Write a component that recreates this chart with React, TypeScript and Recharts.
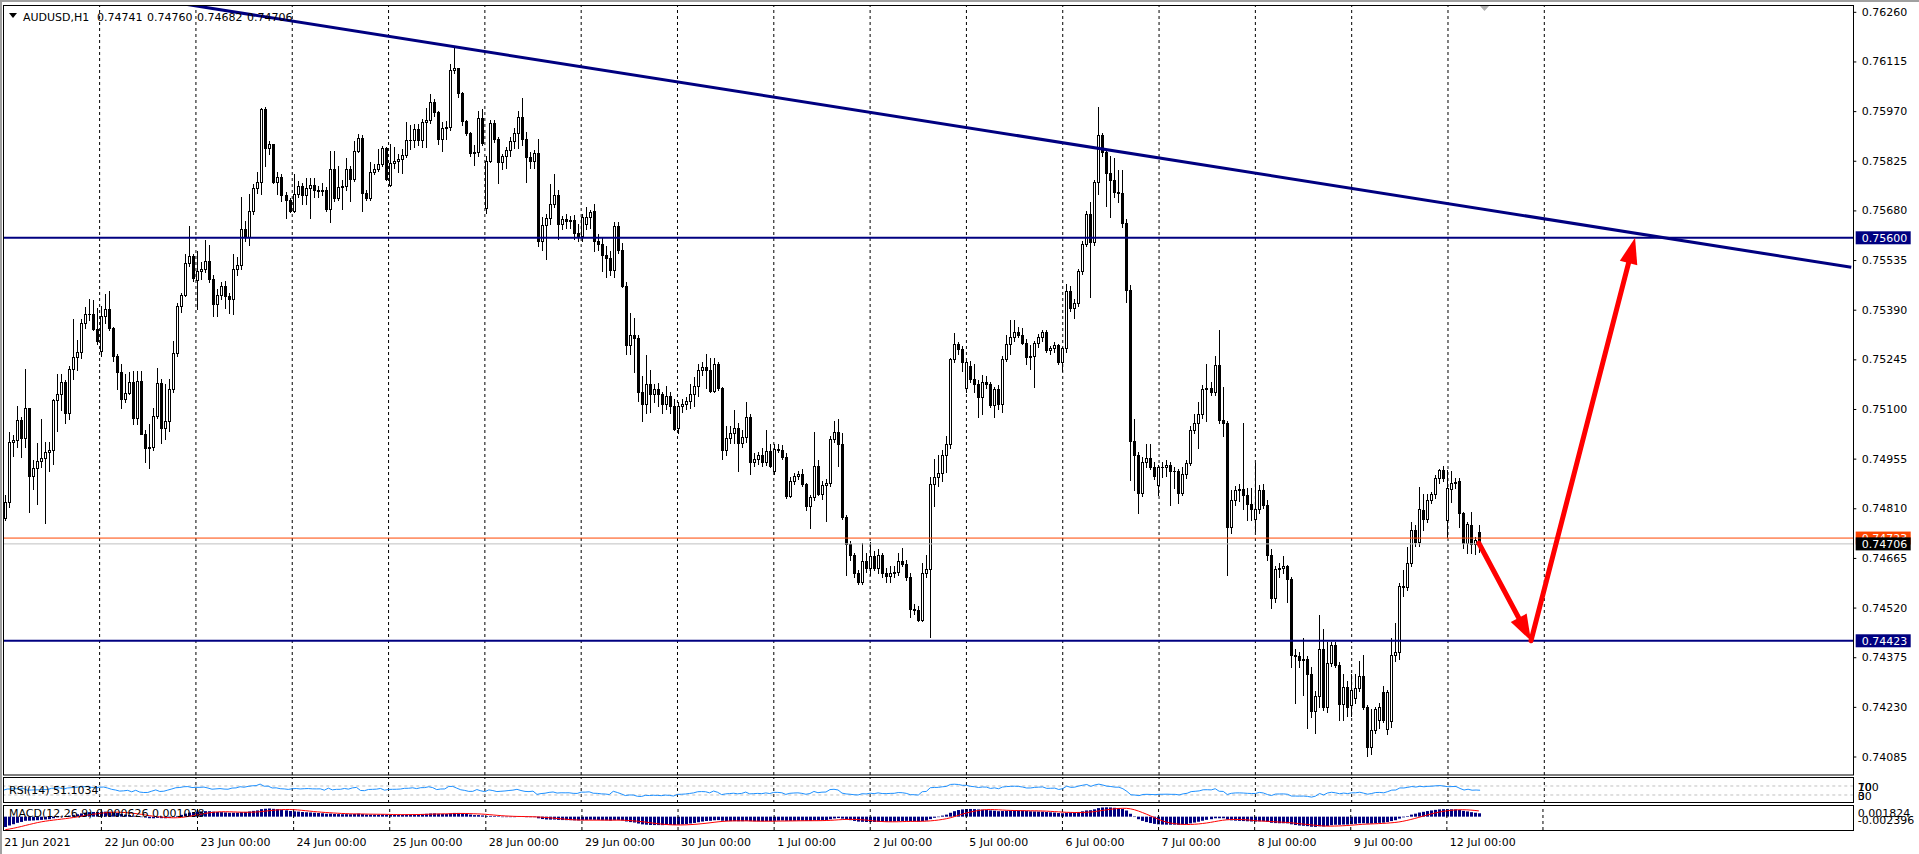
import React from 'react';
import { ComposedChart, Bar, Line, XAxis, YAxis, ReferenceLine } from 'recharts';

type C = [number, number, number, number]; // open, high, low, close in points (1e-5)

const JUN21: C[] = [
  [74783,74849,74775,74829],[74829,75034,74814,75004],[75004,75024,74962,75009],[75009,75108,74990,75068],
  [75068,75077,74960,75014],[75014,75217,74990,75102],[75102,75102,74800,74905],[74905,74951,74865,74929],
  [74929,75001,74822,74949],[74949,75070,74930,74956],[74956,75004,74768,74973],[74973,75004,74920,74980],
  [74980,75129,74939,75126],[75126,75202,75036,75145],[75145,75202,75097,75178],[75178,75184,75058,75089],
  [75089,75227,75070,75216],[75216,75364,75187,75253],[75253,75301,75214,75267],[75267,75364,75250,75350],
  [75350,75399,75338,75376],[75376,75420,75360,75377],[75377,75418,75330,75335],[75335,75394,75290,75300],
];
const JUN22: C[] = [
  [75270,75400,75255,75372],[75372,75435,75350,75391],[75391,75445,75330,75336],[75336,75340,75241,75255],
  [75255,75262,75158,75207],[75207,75231,75104,75129],[75129,75201,75119,75148],[75148,75207,75143,75180],
  [75180,75211,75056,75073],[75073,75211,75056,75182],[75182,75211,75026,75028],[75028,75038,74944,74986],
  [74986,75056,74929,74989],[74989,75104,74980,75080],[75080,75221,75075,75177],[75177,75187,75002,75044],
  [75044,75172,75012,75065],[75065,75187,75036,75158],[75158,75299,75150,75263],[75263,75411,75255,75401],
  [75401,75440,75382,75432],[75432,75552,75430,75525],[75525,75635,75518,75547],[75547,75552,75474,75484],
];
const JUN23: C[] = [
  [75476,75562,75391,75503],[75503,75530,75480,75508],[75508,75593,75500,75533],[75533,75579,75470,75479],
  [75479,75490,75372,75406],[75406,75450,75372,75433],[75433,75470,75420,75458],[75458,75475,75396,75430],
  [75430,75440,75380,75420],[75420,75552,75377,75508],[75508,75545,75490,75520],[75520,75718,75510,75625],
  [75625,75649,75590,75601],[75601,75729,75580,75679],[75679,75756,75670,75744],[75744,75791,75730,75763],
  [75763,75980,75727,75975],[75975,75982,75810,75862],[75862,75883,75844,75873],[75873,75873,75761,75763],
  [75763,75791,75727,75778],[75778,75786,75708,75724],[75724,75735,75659,75710],[75710,75715,75674,75679],
];
const JUN24: C[] = [
  [75679,75786,75674,75729],[75729,75766,75720,75750],[75750,75761,75698,75725],[75725,75776,75698,75744],
  [75744,75776,75659,75754],[75754,75776,75720,75740],[75740,75750,75720,75737],[75737,75760,75725,75741],
  [75741,75747,75679,75683],[75683,75854,75645,75800],[75800,75854,75708,75716],[75716,75810,75710,75747],
  [75747,75770,75683,75750],[75750,75834,75740,75802],[75802,75810,75708,75771],[75771,75883,75765,75854],
  [75854,75902,75850,75891],[75891,75900,75679,75730],[75730,75740,75710,75716],[75716,75820,75710,75793],
  [75793,75815,75785,75802],[75802,75859,75795,75815],[75815,75868,75810,75861],[75861,75864,75768,75771],
];
const JUN25: C[] = [
  [75754,75873,75752,75818],[75818,75864,75805,75825],[75825,75845,75791,75829],[75829,75860,75788,75842],
  [75842,75937,75835,75885],[75885,75930,75860,75887],[75887,75932,75865,75917],[75917,75932,75870,75885],
  [75885,75946,75865,75938],[75938,75980,75865,75944],[75944,76021,75935,75997],[75997,76005,75955,75968],
  [75968,75970,75873,75888],[75888,75937,75854,75920],[75920,75940,75890,75924],[75924,76109,75915,76089],
  [76089,76156,76080,76095],[76095,76097,76010,76022],[76022,76025,75930,75941],[75941,75945,75900,75907],
  [75907,75910,75839,75849],[75849,75870,75813,75851],[75851,75971,75840,75951],[75951,75975,75870,75878],
];
const JUN28: C[] = [
  [75686,75840,75671,75825],[75825,75943,75820,75934],[75934,75945,75880,75889],[75889,75895,75759,75820],
  [75820,75845,75800,75838],[75838,75865,75804,75857],[75857,75895,75840,75884],[75884,75921,75862,75905],
  [75905,75969,75862,75953],[75953,76008,75870,75889],[75889,75910,75762,75836],[75836,75850,75804,75823],
  [75823,75857,75804,75847],[75847,75889,75576,75592],[75592,75661,75565,75636],[75636,75670,75538,75657],
  [75657,75758,75640,75700],[75700,75785,75690,75724],[75724,75740,75597,75639],[75639,75665,75625,75655],
  [75655,75670,75630,75650],[75650,75665,75630,75652],[75652,75666,75597,75613],[75613,75640,75590,75605],
];
const JUN29: C[] = [
  [75605,75670,75590,75661],[75640,75690,75625,75661],[75661,75680,75630,75674],[75679,75698,75560,75592],
  [75592,75610,75565,75583],[75583,75600,75504,75551],[75551,75576,75485,75541],[75541,75560,75490,75507],
  [75507,75645,75485,75634],[75634,75645,75555,75563],[75563,75584,75455,75459],[75459,75470,75262,75286],
  [75286,75381,75262,75315],[75315,75366,75209,75307],[75307,75315,75124,75151],[75151,75196,75064,75116],
  [75116,75257,75087,75172],[75172,75214,75092,75145],[75145,75172,75120,75158],[75158,75175,75110,75143],
  [75143,75150,75087,75114],[75114,75167,75100,75137],[75137,75150,75087,75108],[75108,75130,75039,75042],
];
const JUN30: C[] = [
  [75045,75120,75030,75108],[75108,75130,75090,75114],[75114,75135,75100,75124],[75124,75172,75103,75145],
  [75145,75193,75108,75167],[75167,75230,75137,75214],[75214,75236,75200,75222],[75222,75262,75161,75214],
  [75214,75250,75150,75154],[75154,75250,75150,75230],[75230,75236,75155,75161],[75161,75165,74954,74981],
  [74981,75050,74965,75015],[75015,75050,75000,75029],[75029,75098,75002,75045],[75045,75060,74920,75000],
  [75000,75039,74990,75018],[75018,75119,75005,75076],[75076,75085,74909,74944],[74944,74970,74933,74954],
  [74954,74975,74940,74965],[74965,74985,74933,74944],[74944,75039,74935,74976],[74976,74997,74930,74933],
];
const JUL01: C[] = [
  [74920,74997,74910,74984],[74984,74997,74975,74981],[74981,74995,74955,74960],[74960,74970,74840,74845],
  [74845,74900,74843,74891],[74891,74912,74880,74903],[74903,74920,74895,74910],[74910,74924,74875,74880],
  [74880,74885,74806,74816],[74816,74850,74752,74843],[74843,75034,74835,74933],[74933,74950,74850,74853],
  [74853,74890,74838,74878],[74878,74895,74774,74885],[74885,75020,74875,75013],[75013,75064,75005,75032],
  [75032,75071,74933,74997],[74997,75031,74780,74784],[74784,74790,74614,74705],[74705,74715,74660,74673],
  [74673,74680,74610,74620],[74620,74630,74590,74595],[74595,74710,74590,74657],[74657,74678,74625,74635],
];
const JUL02: C[] = [
  [74635,74712,74615,74671],[74671,74685,74630,74635],[74635,74690,74620,74673],[74673,74680,74610,74620],
  [74620,74635,74595,74612],[74612,74640,74595,74622],[74622,74640,74610,74625],[74625,74678,74615,74657],
  [74657,74694,74640,74646],[74646,74660,74600,74609],[74609,74620,74492,74516],[74516,74530,74500,74513],
  [74513,74525,74480,74485],[74485,74651,74480,74620],[74620,74673,74610,74633],[74633,74900,74434,74880],
  [74880,74954,74816,74901],[74901,74965,74875,74912],[74912,74980,74890,74965],[74965,75020,74917,74997],
  [74997,75250,74985,75246],[75246,75323,75236,75289],[75289,75295,75260,75275],[75275,75283,75212,75236],
];
const JUL05: C[] = [
  [75161,75240,75150,75236],[75225,75240,75180,75188],[75188,75230,75150,75172],[75172,75185,75077,75135],
  [75135,75200,75084,75178],[75178,75195,75160,75173],[75173,75180,75105,75112],[75112,75165,75078,75157],
  [75157,75170,75100,75114],[75114,75256,75090,75247],[75247,75317,75240,75289],[75289,75360,75262,75311],
  [75311,75360,75300,75326],[75326,75340,75310,75317],[75317,75336,75290,75293],[75293,75305,75231,75253],
  [75253,75287,75216,75256],[75256,75300,75164,75293],[75293,75320,75280,75309],[75309,75330,75300,75324],
  [75324,75330,75265,75272],[75272,75285,75260,75277],[75277,75295,75265,75287],[75287,75290,75230,75237],
];
const JUL06: C[] = [
  [75237,75280,75210,75277],[75277,75465,75265,75444],[75444,75460,75385,75395],[75395,75420,75367,75410],
  [75410,75510,75400,75504],[75504,75590,75495,75582],[75582,75678,75575,75670],[75670,75705,75428,75588],
  [75588,75770,75580,75763],[75763,75982,75729,75899],[75899,75905,75840,75852],[75852,75860,75692,75788],
  [75788,75840,75662,75769],[75769,75834,75720,75733],[75733,75797,75705,75732],[75732,75797,75631,75643],
  [75643,75655,75412,75447],[75447,75461,74893,75006],[75006,75071,74862,74967],[74967,74975,74797,74854],
  [74854,74960,74845,74945],[74945,74998,74930,74957],[74957,74998,74925,74932],[74932,74945,74895,74905],
];
const JUL07: C[] = [
  [74878,74935,74850,74930],[74930,74945,74900,74932],[74932,74950,74905,74936],[74936,74945,74819,74920],
  [74920,74930,74870,74918],[74918,74925,74825,74856],[74856,74930,74850,74911],[74911,74950,74899,74942],
  [74942,75050,74935,75038],[75038,75084,75030,75059],[75059,75121,74985,75084],[75084,75170,75075,75157],
  [75157,75231,75065,75160],[75160,75180,75140,75151],[75151,75256,75140,75228],[75228,75330,75059,75069],
  [75069,75164,75022,75059],[75059,75065,74614,74755],[74755,74862,74739,74834],[74834,74875,74820,74862],
  [74862,74880,74830,74865],[74865,75059,74807,74850],[74850,74870,74776,74822],[74822,74870,74776,74807],
];
const JUL08: C[] = [
  [74780,74942,74745,74807],[74807,74878,74795,74862],[74862,74880,74810,74819],[74819,74835,74659,74675],
  [74675,74690,74518,74549],[74549,74640,74536,74632],[74632,74650,74610,74637],[74637,74672,74620,74641],
  [74641,74645,74536,74604],[74604,74610,74346,74382],[74382,74400,74241,74379],[74379,74390,74346,74367],
  [74367,74430,74266,74371],[74371,74380,74167,74325],[74325,74346,74200,74219],[74219,74275,74155,74263],
  [74263,74499,74229,74398],[74398,74456,74220,74229],[74229,74419,74215,74358],[74358,74420,74350,74411],
  [74411,74419,74345,74352],[74352,74360,74192,74238],[74238,74327,74192,74288],[74288,74305,74204,74229],
];
const JUL09: C[] = [
  [74235,74325,74202,74280],[74255,74327,74240,74284],[74284,74364,74275,74321],[74321,74382,74223,74229],
  [74229,74235,74087,74112],[74112,74223,74093,74161],[74161,74230,74155,74223],[74192,74240,74167,74229],
  [74272,74290,74185,74192],[74165,74280,74150,74272],[74190,74432,74170,74382],[74382,74475,74364,74389],
  [74389,74592,74370,74583],[74583,74629,74555,74580],[74579,74696,74570,74649],[74649,74771,74640,74746],
  [74746,74760,74700,74712],[74712,74871,74700,74807],[74805,74853,74746,74778],[74778,74853,74770,74834],
  [74834,74858,74825,74851],[74851,74907,74840,74897],[74897,74926,74883,74922],[74922,74933,74890,74897],
];
const JUL12: C[] = [
  [74776,74922,74727,74868],[74865,74920,74829,74883],[74883,74897,74870,74888],[74890,74897,74756,74797],
  [74797,74800,74693,74709],[74709,74770,74678,74764],[74761,74800,74678,74705],[74705,74725,74676,74717],
  [74741,74760,74682,74706],
];

const DAYS: C[][] = [JUN21, JUN22, JUN23, JUN24, JUN25, JUN28, JUN29, JUN30, JUL01, JUL02, JUL05, JUL06, JUL07, JUL08, JUL09, JUL12];
const DAY_LABELS = ['21 Jun 2021', '22 Jun 00:00', '23 Jun 00:00', '24 Jun 00:00', '25 Jun 00:00', '28 Jun 00:00', '29 Jun 00:00', '30 Jun 00:00', '1 Jul 00:00', '2 Jul 00:00', '5 Jul 00:00', '6 Jul 00:00', '7 Jul 00:00', '8 Jul 00:00', '9 Jul 00:00', '12 Jul 00:00'];
const DAY_TICKS = [0, 24, 48, 72, 96, 120, 144, 168, 192, 216, 240, 264, 288, 312, 336, 360];
const GRID_LINES = [24, 48, 72, 96, 120, 144, 168, 192, 216, 240, 264, 288, 312, 336, 360, 384];
const SLOT_COUNT = 462;

const PRICE_TICKS = [0.7626, 0.76115, 0.7597, 0.75825, 0.7568, 0.75535, 0.7539, 0.75245, 0.751, 0.74955, 0.7481, 0.74665, 0.7452, 0.74375, 0.7423, 0.74085];
const PRICE_DOMAIN = [0.74031, 0.76277];
const RESISTANCE = 0.756;
const SUPPORT = 0.74423;
const BID = 0.74706;
const ASK = 0.74723;
const PRICE_BOXES = [
  { value: ASK, bg: '#FF4500' },
  { value: BID, bg: '#000000' },
  { value: RESISTANCE, bg: '#000080' },
  { value: SUPPORT, bg: '#000080' },
];
const TREND = [{ x: 0, y: 0.763653 }, { x: 461, y: 0.755138 }];
const ARROW_DOWN = [{ x: 368, y: 0.74708 }, { x: 381, y: 0.74423 }];
const ARROW_UP = [{ x: 381, y: 0.74423 }, { x: 407, y: 0.756 }];

const RSI_TICKS = [100, 70, 30, 0];
const RSI_DOMAIN = [-5.6, 110];
const MACD_TICKS = [0.001824, -0.002396];
const MACD_DOMAIN = [-0.002396, 0.001824];
// indicator warm-up state at the left edge
const RSI_SEED = { gain: 0.0006, loss: 0.0006 };
const MACD_SEED = { ema12: 0.7484, ema26: 0.7504 };
const MACD_PRIOR = [-0.00262, -0.00258, -0.00252, -0.00245, -0.00238, -0.0023, -0.00222, -0.00212];

const CANDLES: C[] = DAYS.flat();

function buildData() {
  const rows: any[] = [];
  let e12 = MACD_SEED.ema12;
  let e26 = MACD_SEED.ema26;
  const hist = [...MACD_PRIOR];
  let ag = RSI_SEED.gain;
  let al = RSI_SEED.loss;
  let prev = CANDLES[0][0] / 1e5;
  for (let i = 0; i < SLOT_COUNT; i++) {
    if (i < CANDLES.length) {
      const [oo, hh, ll, cc] = CANDLES[i];
      const o = oo / 1e5, c = cc / 1e5;
      const h = Math.max(hh, oo, cc) / 1e5;
      const l = Math.min(ll, oo, cc) / 1e5;
      const ch = c - prev;
      ag = (ag * 13 + Math.max(ch, 0)) / 14;
      al = (al * 13 + Math.max(-ch, 0)) / 14;
      const rsi = al === 0 ? 100 : 100 - 100 / (1 + ag / al);
      e12 += (c - e12) * (2 / 13);
      e26 += (c - e26) * (2 / 27);
      const macd = e12 - e26;
      hist.push(macd);
      const last9 = hist.slice(-9);
      const signal = last9.reduce((a, b) => a + b, 0) / last9.length;
      rows.push({ i, o, h, l, c, range: [l, h], rsi, macd, signal });
      prev = c;
    } else {
      rows.push({ i });
    }
  }
  return rows;
}
const DATA = buildData();

const FONT = 'DejaVu Sans';
const W = 1919;
const MARGIN_L = 3.3;
const AXIS_W = 65.7;

function Candle(props: any) {
  const { x, y, width, height, payload } = props;
  if (!payload || payload.o === undefined || !isFinite(y) || !isFinite(height)) return null;
  const top = Math.min(y, y + height);
  const bot = Math.max(y, y + height);
  const span = payload.h - payload.l;
  const toY = (v: number) => (span > 0 ? top + ((payload.h - v) / span) * (bot - top) : top);
  const cx = Math.round(x + width / 2) + 0.5;
  const yo = toY(payload.o);
  const yc = toY(payload.c);
  const bTop = Math.round(Math.min(yo, yc)) + 0.5;
  const bBot = Math.round(Math.max(yo, yc)) + 0.5;
  const up = payload.c >= payload.o;
  return (
    <g>
      <line x1={cx} x2={cx} y1={Math.round(top)} y2={Math.round(bot) + 1} stroke="#000" strokeWidth={1} />
      {bBot - bTop < 1 ? (
        <line x1={cx - 1.5} x2={cx + 1.5} y1={bTop} y2={bTop} stroke="#000" strokeWidth={1} />
      ) : (
        <rect x={cx - 1} y={bTop} width={2} height={bBot - bTop} fill={up ? '#fff' : '#000'} stroke="#000" strokeWidth={1} />
      )}
    </g>
  );
}

function MacdBar(props: any) {
  const { x, y, width, height } = props;
  if (!isFinite(x) || !isFinite(y) || !isFinite(height)) return null;
  const top = Math.min(y, y + height);
  const h = Math.abs(height);
  const cx = Math.round(x + width / 2);
  return <rect x={cx - 1} y={top} width={3} height={Math.max(h, 0.5)} fill="#000080" />;
}

function ArrowShape(props: any) {
  const { x1, y1, x2, y2 } = props;
  if (![x1, y1, x2, y2].every((v) => isFinite(v))) return null;
  const dx = x2 - x1, dy = y2 - y1;
  const len = Math.hypot(dx, dy);
  const ux = dx / len, uy = dy / len;
  const headLen = 26, headHalf = 9;
  const bx = x2 - ux * headLen, by = y2 - uy * headLen;
  const px = -uy, py = ux;
  return (
    <g>
      <line x1={x1} y1={y1} x2={bx + ux * 3} y2={by + uy * 3} stroke="#FF0000" strokeWidth={5} strokeLinecap="round" />
      <polygon points={`${x2},${y2} ${bx + px * headHalf},${by + py * headHalf} ${bx - px * headHalf},${by - py * headHalf}`} fill="#FF0000" />
    </g>
  );
}

function PriceTick(props: any) {
  const { x, y, payload } = props;
  const v = payload.value as number;
  const box = PRICE_BOXES.find((b) => Math.abs(b.value - v) < 1e-9);
  if (box) {
    return (
      <g>
        <rect x={x + 2.4} y={y - 6.5} width={55} height={13} fill={box.bg} />
        <text x={x + 8.5} y={y + 4} fill="#fff" fontSize={11} fontFamily={FONT}>{v.toFixed(5)}</text>
      </g>
    );
  }
  return (
    <g>
      <line x1={x} x2={x + 3} y1={y + 0.5} y2={y + 0.5} stroke="#000" />
      <text x={x + 8.5} y={y + 4} fill="#000" fontSize={11} fontFamily={FONT}>{v.toFixed(5)}</text>
    </g>
  );
}

function RsiTick(props: any) {
  const { x, y, payload } = props;
  const v = payload.value as number;
  const dy = v === 100 ? 11.4 : v === 0 ? -2 : 4.7;
  return <text x={x + 4.5} y={y + dy} fill="#000" fontSize={11} fontFamily={FONT}>{String(v)}</text>;
}

function MacdTick(props: any) {
  const { x, y, payload } = props;
  const v = payload.value as number;
  const dy = v > 0 ? 10.8 : -6;
  return <text x={x + 4.5} y={y + dy} fill="#000" fontSize={11} fontFamily={FONT}>{v.toFixed(6)}</text>;
}

function DayTick(props: any) {
  const { x, y, payload } = props;
  const idx = DAY_TICKS.indexOf(payload.value);
  if (idx < 0) return null;
  const tx = idx === 0 ? x - 1 : x + 3;
  return <text x={tx} y={y + 16} fill="#000" fontSize={11} fontFamily={FONT}>{DAY_LABELS[idx]}</text>;
}

const gridLines = (prefix: string) =>
  GRID_LINES.map((d) => <ReferenceLine key={prefix + d} x={d} stroke="#000" strokeDasharray="3 3" strokeWidth={1} />);

export default function App() {
  const abs = (top: number): React.CSSProperties => ({ position: 'absolute', left: 0, top });
  return (
    <div style={{ position: 'fixed', left: 0, top: 0, width: W, height: 854, background: '#fff', overflow: 'hidden' }}>
      {/* main panel: grid layer */}
      <div style={abs(0)}>
        <ComposedChart width={W} height={780} data={DATA} margin={{ top: 6, right: 0, bottom: 5, left: MARGIN_L }}>
          <XAxis dataKey="i" type="category" hide />
          <YAxis orientation="right" width={AXIS_W} type="number" domain={PRICE_DOMAIN} allowDataOverflow tick={false} axisLine={false} tickLine={false} />
          {gridLines('g')}
        </ComposedChart>
      </div>
      {/* main panel: candles and drawings */}
      <div style={abs(0)}>
        <ComposedChart width={W} height={780} data={DATA} margin={{ top: 6, right: 0, bottom: 5, left: MARGIN_L }}>
          <XAxis dataKey="i" type="category" hide />
          <YAxis
            orientation="right"
            width={AXIS_W}
            type="number"
            domain={PRICE_DOMAIN}
            allowDataOverflow
            ticks={[...PRICE_TICKS, ...PRICE_BOXES.map((b) => b.value)]}
            interval={0}
            tick={<PriceTick />}
            tickSize={0}
            tickMargin={0}
            tickLine={false}
            axisLine={false}
          />
          <Bar dataKey="range" shape={<Candle />} isAnimationActive={false} />
          <ReferenceLine y={RESISTANCE} stroke="#000080" strokeWidth={2} />
          <ReferenceLine y={SUPPORT} stroke="#000080" strokeWidth={2} />
          <ReferenceLine y={ASK} stroke="#FF4500" strokeWidth={1} />
          <ReferenceLine y={BID} stroke="#C0C0C0" strokeWidth={1} />
          <ReferenceLine segment={TREND} stroke="#000080" strokeWidth={3} ifOverflow="hidden" />
          <ReferenceLine segment={ARROW_DOWN} shape={<ArrowShape />} />
          <ReferenceLine segment={ARROW_UP} shape={<ArrowShape />} />
        </ComposedChart>
      </div>
      {/* RSI panel */}
      <div style={abs(777)}>
        <ComposedChart width={W} height={26} data={DATA} margin={{ top: 0, right: 0, bottom: 0, left: MARGIN_L }}>
          <XAxis dataKey="i" type="category" hide />
          <YAxis orientation="right" width={AXIS_W} type="number" domain={RSI_DOMAIN} allowDataOverflow ticks={RSI_TICKS} interval={0} tick={<RsiTick />} tickSize={0} tickMargin={0} tickLine={false} axisLine={false} />
          {gridLines('r')}
          <ReferenceLine y={70} stroke="#C0C0C0" strokeDasharray="3 3" />
          <ReferenceLine y={30} stroke="#C0C0C0" strokeDasharray="3 3" />
          <Line dataKey="rsi" stroke="#1E90FF" strokeWidth={1} dot={false} isAnimationActive={false} />
        </ComposedChart>
      </div>
      {/* MACD panel with time axis */}
      <div style={abs(806)}>
        <ComposedChart width={W} height={48} data={DATA} margin={{ top: 0.5, right: 0, bottom: 0, left: MARGIN_L }}>
          <XAxis dataKey="i" type="category" height={24} ticks={DAY_TICKS} interval={0} tick={<DayTick />} tickSize={0} tickMargin={0} tickLine={false} axisLine={false} />
          <YAxis orientation="right" width={AXIS_W} type="number" domain={MACD_DOMAIN} allowDataOverflow ticks={MACD_TICKS} interval={0} tick={<MacdTick />} tickSize={0} tickMargin={0} tickLine={false} axisLine={false} />
          {gridLines('m')}
          <Bar dataKey="macd" shape={<MacdBar />} isAnimationActive={false} />
          <Line dataKey="signal" stroke="#FF0000" strokeWidth={1} dot={false} isAnimationActive={false} />
        </ComposedChart>
      </div>
      {/* frames and captions */}
      <svg width={W} height={854} style={{ position: 'absolute', left: 0, top: 0, pointerEvents: 'none' }}>
        <line x1={0} y1={1} x2={W} y2={1} stroke="#A0A0A0" strokeWidth={2} />
        <line x1={1} y1={0} x2={1} y2={854} stroke="#A0A0A0" strokeWidth={2} />
        <rect x={3.5} y={5.5} width={1850} height={769.5} fill="none" stroke="#000" />
        <rect x={3.5} y={777.5} width={1850} height={25} fill="none" stroke="#000" />
        <rect x={3.5} y={805.5} width={1850} height={25} fill="none" stroke="#000" />
        <polygon points="1480,6 1489,6 1484.5,11" fill="#B0B0B0" />
        <polygon points="9,13 17,13 13,18" fill="#000" />
        <text x={23} y={20.5} fontSize={11} fontFamily={FONT} fill="#000">AUDUSD,H1</text>
        <text x={97} y={20.5} fontSize={11} fontFamily={FONT} fill="#000">0.74741</text>
        <text x={147} y={20.5} fontSize={11} fontFamily={FONT} fill="#000">0.74760</text>
        <text x={197} y={20.5} fontSize={11} fontFamily={FONT} fill="#000">0.74682</text>
        <text x={247} y={20.5} fontSize={11} fontFamily={FONT} fill="#000">0.74706</text>
        <text x={9} y={793.5} fontSize={11} fontFamily={FONT} fill="#000">RSI(14) 51.1034</text>
        <text x={9} y={817} fontSize={11} fontFamily={FONT} fill="#000">MACD(12,26,9) 0.000626 0.001038</text>
      </svg>
    </div>
  );
}
